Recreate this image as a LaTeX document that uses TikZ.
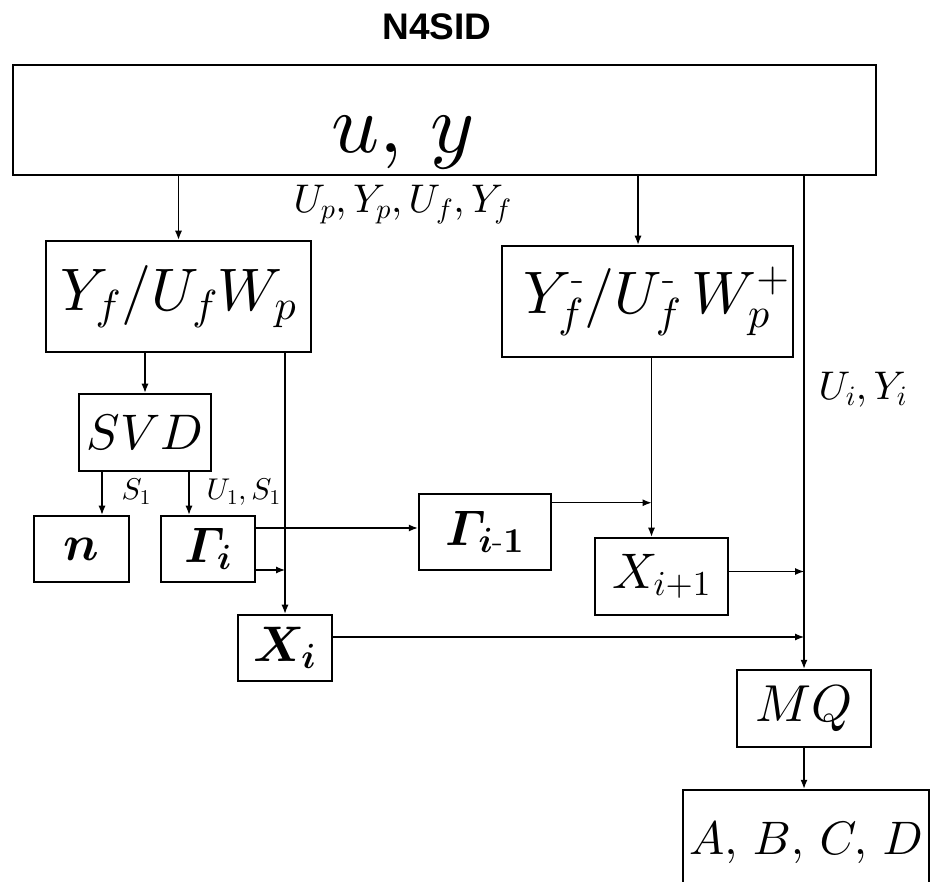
\documentclass[tikz,border=0pt]{standalone}
\usepackage{amsmath}
\usepackage{fontspec}
\newfontfamily\titlefont{Liberation Sans}
\usetikzlibrary{arrows.meta}
% scalable math fonts
\DeclareFontShape{OML}{cmm}{m}{it}{<->cmmi10}{}
\DeclareFontShape{OML}{cmm}{b}{it}{<->cmmib10}{}
\DeclareFontShape{OMS}{cmsy}{m}{n}{<->cmsy10}{}
\DeclareFontShape{OMS}{cmsy}{b}{n}{<->cmbsy10}{}
\DeclareFontShape{OT1}{cmr}{m}{n}{<->cmr10}{}
\DeclareFontShape{OT1}{cmr}{bx}{n}{<->cmbx10}{}

\begin{document}
\begin{tikzpicture}[x=1pt, y=-1pt,
    box/.style={draw, line width=2.5pt, inner sep=0pt},
    flow/.style={line width=1.2pt, -{Latex[length=9pt,width=7pt]}},
    fs/.style={font=\fontsize{#1}{#1}\selectfont}]
  \useasboundingbox (0,0) rectangle (930,882);

  % Title
  \node[fs=37, anchor=base] (title) at (437,40) {\titlefont\bfseries N4SID};

  % Data block
  \node[box, minimum width=863pt, minimum height=110pt] (data) at (444.5,120) {};
  \node[fs=84, anchor=base] (uy) at (403,153) {$u,\,y$};

  % Projections
  \node[box, minimum width=265pt, minimum height=111pt, fs=60] (yfw) at (178.5,296.5)
    {$Y_f/U_fW_p$};
  \node[box, minimum width=291pt, minimum height=111pt, fs=60] (yfwp) at (647.5,301.5)
    {\hspace*{18pt}$Y_f^{\text{-}}/U_f^{\text{-}}\,W_p^{+}$};

  % SVD and its results
  \node[box, minimum width=132pt, minimum height=77pt, fs=50] (svd) at (145,432.5) {$SVD$};
  \node[box, minimum width=95pt, minimum height=66pt, fs=50] (n) at (81.5,549) {$\boldsymbol{n}$};
  \node[box, minimum width=94pt, minimum height=66pt, fs=50] (gi) at (208,549)
    {$\boldsymbol{\varGamma_i}$};
  \node[box, minimum width=132pt, minimum height=76pt, fs=50] (gim1) at (485,532)
    {$\boldsymbol{\varGamma_{i\text{-}1}}$};

  % States
  \node[box, minimum width=94pt, minimum height=66pt, fs=50] (xi) at (285,648)
    {$\boldsymbol{X_i}$};
  \node[box, minimum width=133pt, minimum height=77pt, fs=50] (xip1) at (661.5,576.5)
    {$X_{i+1}$};

  % Least squares
  \node[box, minimum width=134pt, minimum height=77pt, fs=52] (mq) at (804,708.5) {$MQ$};
  \node[box, minimum width=246pt, minimum height=110pt, fs=47] (abcd) at (806,845)
    {\raisebox{14pt}{$A,\,B,\,C,\,D$}};

  % Where the two vertical lines run
  \coordinate (xline) at ([xshift=-10pt]xip1.north);

  % Connectors
  \draw[flow] (yfw.north |- data.south) -- (yfw.north);
  \draw[flow] ([xshift=-9.5pt]yfwp.north |- data.south) -- ([xshift=-9.5pt]yfwp.north);
  \draw[flow] (mq.north |- data.south) -- (mq.north);
  \draw[flow] (svd.north |- yfw.south) -- (svd.north);
  \draw[flow] (xi.north |- yfw.south) -- (xi.north);
  \draw[flow] (xline |- yfwp.south) -- (xline);
  \draw[flow] ([xshift=20.5pt]n.north |- svd.south) -- ([xshift=20.5pt]n.north);
  \draw[flow] ([xshift=-19pt]gi.north |- svd.south) -- ([xshift=-19pt]gi.north);
  \draw[flow] ([yshift=4pt]gi.east |- gim1.west) -- ([yshift=4pt]gim1.west);
  \draw[flow] ([yshift=-21pt]gi.east) -- ([yshift=-21pt]gi.east -| xi.north);
  \draw[flow] ([yshift=-10pt]gim1.north east) -- ([yshift=-10pt]gim1.north east -| xline);
  \draw[flow] ([yshift=5pt]xip1.east) -- ([yshift=5pt]xip1.east -| mq.north);
  \draw[flow] ([yshift=11pt]xi.east) -- ([yshift=11pt]xi.east -| mq.north);
  \draw[flow] (mq.south) -- (mq.south |- abcd.north);

  % Labels on the connectors
  \node[fs=40, anchor=base west] (upyp) at (290,213) {$U_p,Y_p,U_f,Y_f$};
  \node[fs=30, anchor=base west] (s1) at (118,500) {$S_1$};
  \node[fs=30, anchor=base west] (u1s1) at (203,500) {$U_1,S_1$};
  \node[fs=40, anchor=base west] (uiyi) at (815,400) {$U_i,Y_i$};
\end{tikzpicture}
\end{document}
